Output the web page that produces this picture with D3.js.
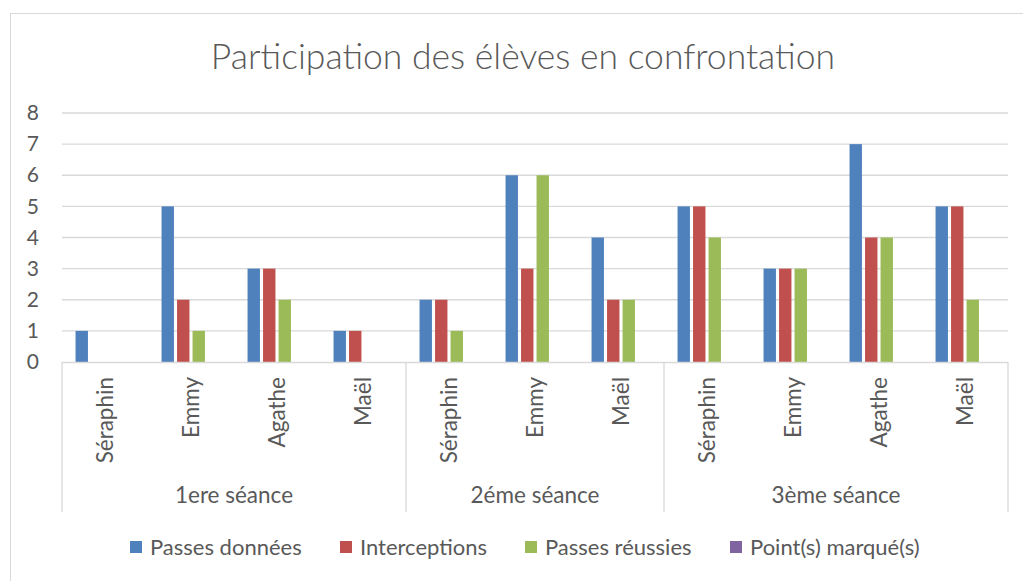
<!DOCTYPE html>
<html lang="fr">
<head>
  <meta charset="UTF-8" />
  <title>Participation des élèves en confrontation</title>
  <style>
    body { margin: 0; background: #fff; }
    svg { display: block; font-family: Lato, "Open Sans", sans-serif; }
  </style>
  <script src="https://d3js.org/d3.v7.min.js"></script>
</head>
<body>
<svg id="chart" width="1023" height="581"></svg>
<script>
  const title = 'Participation des élèves en confrontation';
  const seances = ['1ere séance', '2éme séance', '3ème séance'];
  const eleves = [
    ['Séraphin', 'Emmy', 'Agathe', 'Maël'],
    ['Séraphin', 'Emmy', 'Maël'],
    ['Séraphin', 'Emmy', 'Agathe', 'Maël']
  ];
  const series = ['Passes données', 'Interceptions', 'Passes réussies', 'Point(s) marqué(s)'];
  const colors = ['#4F81BD', '#C0504D', '#9BBB59', '#8064A2'];
  // une valeur par élève / séance, dans l'ordre des catégories
  const passesDonnees  = [1, 5, 3, 1, 2, 6, 4, 5, 3, 7, 5];
  const interceptions  = [0, 2, 3, 1, 2, 3, 2, 5, 3, 4, 5];
  const passesReussies = [0, 1, 2, 0, 1, 6, 2, 4, 3, 4, 2];
  const points         = [0, 0, 0, 0, 0, 0, 0, 0, 0, 0, 0];
  const yTicks = [0, 1, 2, 3, 4, 5, 6, 7, 8];

  const values = [passesDonnees, interceptions, passesReussies, points];

  // liste à plat des catégories
  const cats = [];
  eleves.forEach((list, g) => list.forEach(name => cats.push({ key: g + '-' + name, name, g })));

  const svg = d3.select('#chart');
  const grey = '#595959';
  const line = '#D9D9D9';
  const plotL = 62, plotR = 1008, plotT = 113, plotB = 362;

  svg.append('rect')
    .attr('x', 10.5).attr('y', 13.5)
    .attr('width', 1030).attr('height', 600)
    .attr('fill', '#fff').attr('stroke', line);

  svg.append('text')
    .attr('x', 523).attr('y', 69)
    .attr('text-anchor', 'middle')
    .attr('fill', grey)
    .style('font-size', '35.5px')
    .style('font-weight', 300)
    .text(title);

  const x0 = d3.scaleBand().domain(cats.map(d => d.key)).range([plotL, plotR]);
  const x1 = d3.scaleBand().domain(series)
    .range([12, x0.bandwidth() - 12])
    .paddingInner(0.2).paddingOuter(0.1);
  const y = d3.scaleLinear().domain([0, 8]).range([plotB, plotT]);

  // grille
  svg.append('g')
    .selectAll('line')
    .data(yTicks.filter(t => t > 0))
    .join('line')
    .attr('x1', plotL).attr('x2', plotR)
    .attr('y1', d => y(d)).attr('y2', d => y(d))
    .attr('stroke', line).attr('stroke-width', 1.3);

  // axe vertical
  const yAxis = svg.append('g')
    .attr('transform', `translate(${plotL - 23},0)`)
    .call(d3.axisLeft(y).tickValues(yTicks).tickSize(0).tickPadding(0));
  yAxis.select('.domain').remove();
  yAxis.selectAll('text')
    .attr('fill', grey)
    .style('font-size', '21px')
    .style('font-family', 'Lato, sans-serif');

  // barres
  series.forEach((s, i) => {
    svg.append('g')
      .selectAll('rect')
      .data(cats.map((c, j) => ({ c, v: values[i][j] })))
      .join('rect')
      .attr('x', d => x0(d.c.key) + x1(s))
      .attr('width', x1.bandwidth())
      .attr('y', d => y(d.v))
      .attr('height', d => y(0) - y(d.v))
      .attr('fill', colors[i]);
  });

  // axe des catégories
  svg.append('line')
    .attr('x1', plotL).attr('x2', plotR)
    .attr('y1', plotB + 0.5).attr('y2', plotB + 0.5)
    .attr('stroke', line).attr('stroke-width', 1.3);

  const bounds = [plotL];
  let n = 0;
  eleves.forEach(list => { n += list.length; bounds.push(x0(cats[n - 1].key) + x0.bandwidth()); });

  svg.append('g')
    .selectAll('line')
    .data(bounds)
    .join('line')
    .attr('x1', d => d).attr('x2', d => d)
    .attr('y1', plotB).attr('y2', 512)
    .attr('stroke', line).attr('stroke-width', 1.3);

  svg.append('g')
    .selectAll('text')
    .data(cats)
    .join('text')
    .attr('transform', d => `translate(${x0(d.key) + x0.bandwidth() / 2},377) rotate(-90)`)
    .attr('text-anchor', 'end')
    .attr('dy', '0.35em')
    .attr('fill', grey)
    .style('font-size', '22.5px')
    .text(d => d.name);

  svg.append('g')
    .selectAll('text')
    .data(seances)
    .join('text')
    .attr('x', (d, i) => (bounds[i] + bounds[i + 1]) / 2)
    .attr('y', 503)
    .attr('text-anchor', 'middle')
    .attr('fill', grey)
    .style('font-size', '22.5px')
    .text(d => d);

  // légende
  const legendX = [130, 340, 525, 730];
  const legend = svg.append('g')
    .selectAll('g')
    .data(series)
    .join('g')
    .attr('transform', (d, i) => `translate(${legendX[i]},541)`);
  legend.append('rect')
    .attr('width', 12).attr('height', 12)
    .attr('fill', (d, i) => colors[i]);
  legend.append('text')
    .attr('x', 20).attr('y', 6)
    .attr('dy', '0.35em')
    .attr('fill', grey)
    .style('font-size', '22px')
    .text(d => d);
</script>
</body>
</html>
